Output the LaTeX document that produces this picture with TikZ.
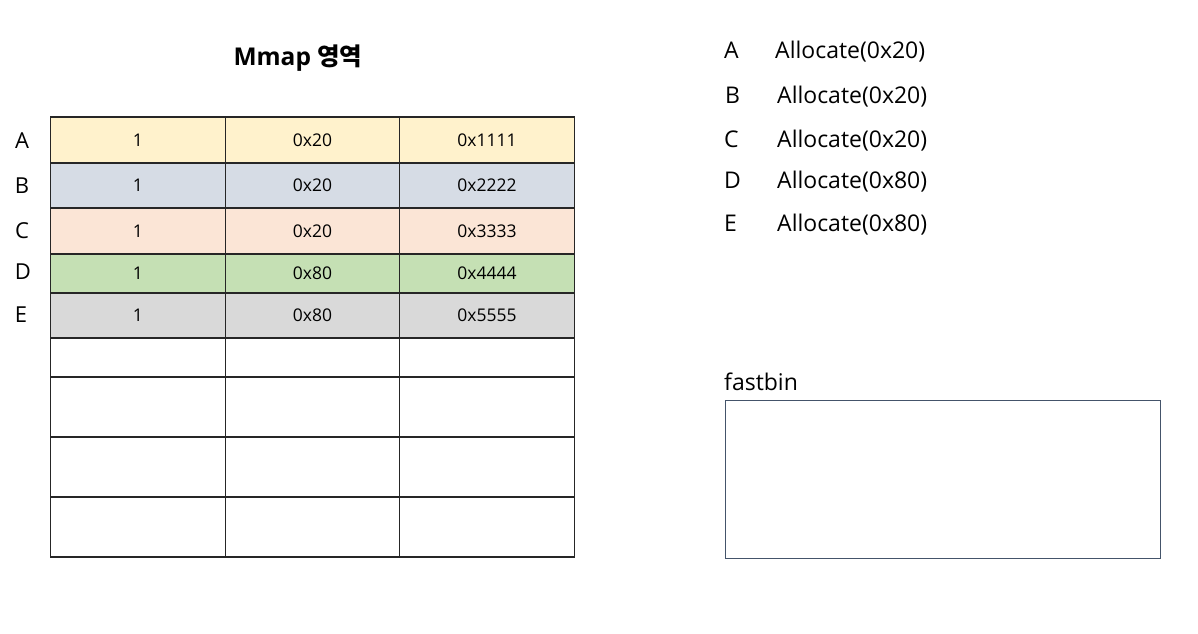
\documentclass[tikz,border=0pt]{standalone}
\usepackage{fontspec}
\setmainfont{Open Sans}
\newfontfamily\kr{Noto Sans CJK KR}
\definecolor{rowA}{HTML}{FFF2CC}
\definecolor{rowB}{HTML}{D6DCE5}
\definecolor{rowC}{HTML}{FBE5D6}
\definecolor{rowD}{HTML}{C5E0B4}
\definecolor{rowE}{HTML}{D9D9D9}
\definecolor{rowN}{HTML}{FFFFFF}
\definecolor{binline}{HTML}{44546A}
\begin{document}
\begin{tikzpicture}[x=1pt,y=-1pt,
  cell/.style={draw=black!85, line width=1.2pt, inner sep=0pt, outer sep=0pt,
    minimum width=174.5pt, font=\fontsize{17.5}{20}\selectfont},
  rowlbl/.style={inner sep=0pt, font=\fontsize{22}{26}\selectfont},
  listtxt/.style={inner sep=0pt, anchor=base west, font=\fontsize{23}{27}\selectfont},
  binbox/.style={draw=binline, line width=1pt, inner sep=0pt, outer sep=0pt,
    minimum width=435pt, minimum height=158pt}]
\useasboundingbox (0,0) rectangle (1198,633);
% title
\node[font=\bfseries\fontsize{24.5}{28}\selectfont, inner sep=0pt] (title) at (298,58) {Mmap {\kr 영역}};
% table
\foreach \r/\t/\b/\col/\a/\s/\h in {
  1/117/163/rowA/1/0x20/0x1111,
  2/163/208/rowB/1/0x20/0x2222,
  3/208/254/rowC/1/0x20/0x3333,
  4/254/293/rowD/1/0x80/0x4444,
  5/293/338/rowE/1/0x80/0x5555,
  6/338/377/rowN///,
  7/377/437/rowN///,
  8/437/497/rowN///,
  9/497/557/rowN///}{
  \pgfmathsetmacro{\hh}{\b-\t}
  \pgfmathsetmacro{\cy}{(\b+\t)/2}
  \node[cell, fill=\col, minimum height=\hh pt] (c\r a) at (138,\cy) {\a};
  \node[cell, fill=\col, minimum height=\hh pt] (c\r b) at (312.5,\cy) {\s};
  \node[cell, fill=\col, minimum height=\hh pt] (c\r c) at (487,\cy) {\h};
}
% row labels
\node[rowlbl] (la) at (22,141) {A};
\node[rowlbl] (lb) at (22,186) {B};
\node[rowlbl] (lc) at (22,231) {C};
\node[rowlbl] (ld) at (23,272) {D};
\node[rowlbl] (le) at (21,315) {E};
% allocation list
\node[listtxt] (ka) at (724,58) {A};
\node[listtxt] (ta) at (775,58) {Allocate(0x20)};
\node[listtxt] (kb) at (725,103) {B};
\node[listtxt] (tb) at (777,103) {Allocate(0x20)};
\node[listtxt] (kc) at (724,147) {C};
\node[listtxt] (tc) at (777,147) {Allocate(0x20)};
\node[listtxt] (kd) at (724,188) {D};
\node[listtxt] (td) at (777,188) {Allocate(0x80)};
\node[listtxt] (ke) at (724,231) {E};
\node[listtxt] (te) at (777,231) {Allocate(0x80)};
% fastbin
\node[listtxt] (fbl) at (724,390) {fastbin};
\node[binbox] (fb) at (942.5,479) {};
\end{tikzpicture}
\end{document}
